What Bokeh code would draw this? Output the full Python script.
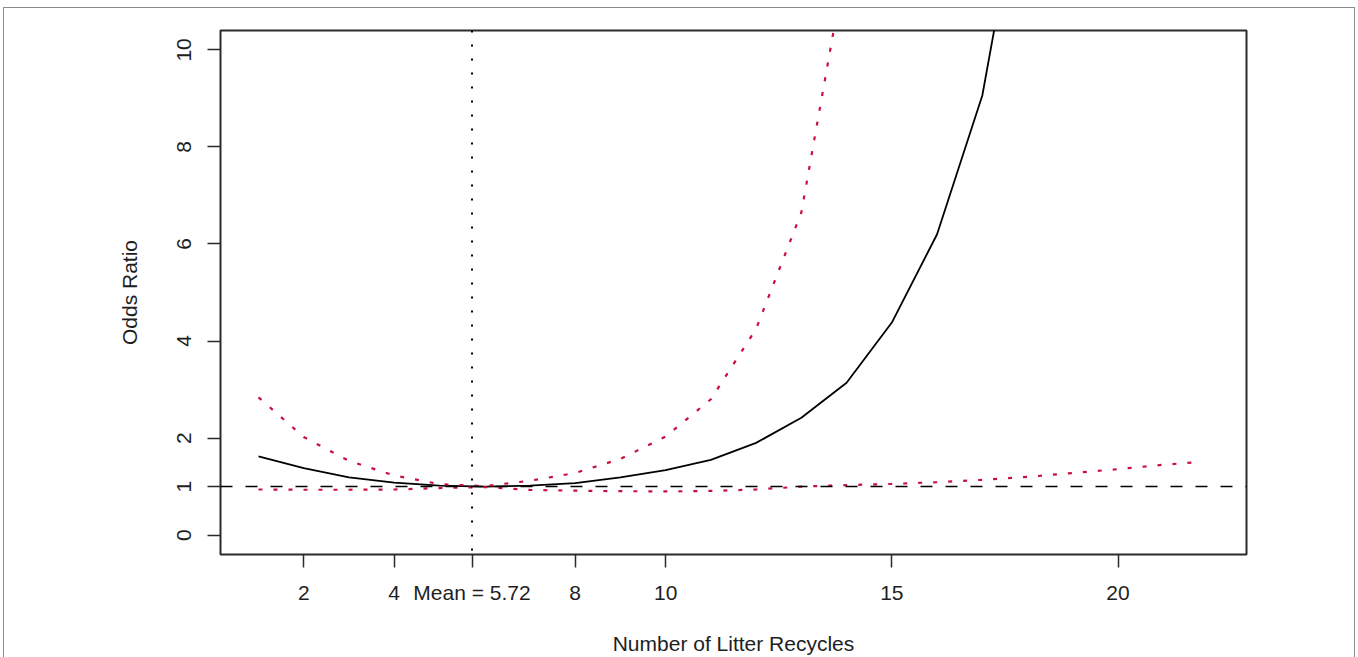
from bokeh.plotting import figure
from bokeh.models import FixedTicker, Range1d, Span, InlineStyleSheet
from bokeh.embed import file_html
from bokeh.resources import INLINE

# ---- data ----
x_est = [1, 2, 3, 4, 5, 6, 7, 8, 9, 10, 11, 12, 13, 14, 15, 16, 17, 18]
or_est = [1.62, 1.38, 1.19, 1.08, 1.02, 1.0, 1.02, 1.07, 1.19, 1.34, 1.55, 1.9,
          2.42, 3.14, 4.38, 6.2, 9.06, 14.2]

x_upper = [1, 2, 3, 4, 5, 6, 7, 8, 9, 10, 11, 12, 13, 14]
or_upper = [2.84, 2.02, 1.53, 1.23, 1.05, 1.01, 1.12, 1.28, 1.57, 2.03, 2.8, 4.25,
            6.65, 11.9]

x_lower = [1, 2, 3, 4, 5, 6, 7, 8, 9, 10, 11, 12, 13, 14, 15, 16, 17, 18, 19,
           20, 21, 21.7]
or_lower = [0.94, 0.935, 0.935, 0.94, 0.97, 0.99, 0.93, 0.915, 0.905, 0.90, 0.91,
            0.94, 1.0, 1.03, 1.055, 1.09, 1.14, 1.2, 1.28, 1.36, 1.45, 1.5]

mean_value = 5.72
reference_or = 1.0

x_tick_values = [2, 4, 5.72, 8, 10, 15, 20]
x_tick_labels = ["2", "4", "Mean = 5.72", "8", "10", "15", "20"]
y_tick_values = [0, 1, 2, 4, 6, 8, 10]
y_tick_labels = ["0", "1", "2", "4", "6", "8", "10"]

x_title = "Number of Litter Recycles"
y_title = "Odds Ratio"

# ---- figure ----
FONT = "Liberation Sans"
TXT = "#1e1e1e"
RED = "#c8103c"

p = figure(width=1358, height=657, output_backend="svg", toolbar_location=None,
           x_range=Range1d(0.16, 22.84), y_range=Range1d(-0.4, 10.4),
           min_border_left=220, min_border_right=112, min_border_top=30,
           min_border_bottom=103)
p.background_fill_color = "white"
p.border_fill_color = "white"
p.grid.visible = False
p.outline_line_color = "#2a2a2a"
p.outline_line_width = 2

# curves
p.line(x_est, or_est, line_color="black", line_width=1.8)
p.line(x_upper, or_upper, line_color=RED, line_width=2.2, line_dash="4 11")
p.line(x_lower, or_lower, line_color=RED, line_width=2.2, line_dash="4 11")

# reference lines
p.add_layout(Span(location=reference_or, dimension="width", line_color="black",
                  line_width=1.6, line_dash="12 13"))
p.add_layout(Span(location=mean_value, dimension="height", line_color="black",
                  line_width=2, line_dash="2 12"))

# axes
for ax in (p.xaxis[0], p.yaxis[0]):
    ax.axis_line_color = None
    ax.major_tick_line_color = "#2a2a2a"
    ax.major_tick_line_width = 1.5
    ax.major_tick_out = 13
    ax.major_tick_in = 0
    ax.minor_tick_line_color = None
    ax.major_label_text_font = FONT
    ax.major_label_text_font_size = "21px"
    ax.major_label_text_color = TXT
    ax.axis_label_text_font = FONT
    ax.axis_label_text_font_size = "21px"
    ax.axis_label_text_font_style = "normal"
    ax.axis_label_text_color = TXT

p.xaxis[0].ticker = FixedTicker(ticks=x_tick_values)
p.xaxis[0].major_label_overrides = dict(zip(x_tick_values, x_tick_labels))
p.xaxis[0].axis_label = x_title
p.xaxis[0].major_label_standoff = 13
p.xaxis[0].axis_label_standoff = 25

p.yaxis[0].ticker = FixedTicker(ticks=y_tick_values)
p.yaxis[0].major_label_overrides = dict(zip(y_tick_values, y_tick_labels))
p.yaxis[0].major_label_orientation = "parallel"
p.yaxis[0].axis_label = y_title
p.yaxis[0].major_label_standoff = 16
p.yaxis[0].axis_label_standoff = 34

# outer grey frame of the figure panel (drawn with CSS over the canvas)
p.stylesheets = [InlineStyleSheet(css="""
:host { position: relative; }
:host::after {
  content: ""; position: absolute; left: 3px; top: 7px;
  width: 1352px; height: 720px; box-sizing: border-box;
  border: 1.5px solid #8c8c8c; pointer-events: none; z-index: 10;
}
""")]

open("out.html", "w").write(file_html(p, INLINE))
